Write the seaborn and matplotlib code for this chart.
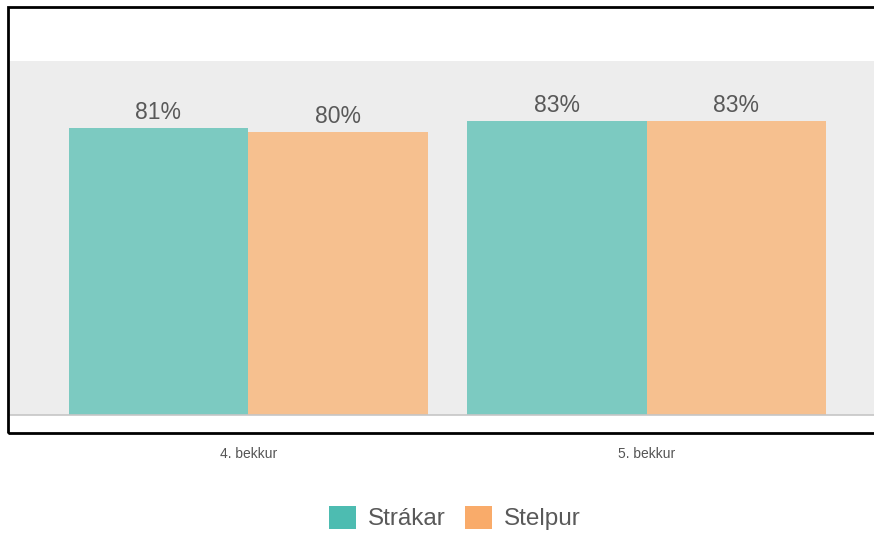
import matplotlib
matplotlib.use("Agg")
import matplotlib.pyplot as plt
import seaborn as sns
import pandas as pd
from matplotlib.patches import Rectangle, Patch

categories = ["4. bekkur", "5. bekkur"]
series_names = ["Strákar", "Stelpur"]
strakar = [81, 83]
stelpur = [80, 83]
bar_colors = ["#7ccac1", "#f6c08f"]
legend_colors = ["#4dbcb1", "#f9ab6a"]

df = pd.DataFrame({
    "cat": categories * 2,
    "series": [series_names[0]] * 2 + [series_names[1]] * 2,
    "val": strakar + stelpur,
})

sns.set_theme(style="white")
plt.rcParams["font.family"] = ["Liberation Sans", "DejaVu Sans"]

W, H = 874, 535
fig = plt.figure(figsize=(W / 100, H / 100), dpi=100)
ax = fig.add_axes([9 / W, (H - 415) / H, (W - 9) / W, 354 / H])
ax.set_facecolor("#ededed")

sns.barplot(data=df, x="cat", y="val", hue="series", palette=bar_colors,
            width=0.9, saturation=1, ax=ax, legend=False, linewidth=0)

ax.set_ylim(0, 100)
ax.set_xlim(-0.6, 1.57)
ax.set_yticks([])
ax.set_xlabel("")
ax.set_ylabel("")
for s in ax.spines.values():
    s.set_visible(False)
ax.axhline(0, color="#c6c6c6", lw=1.2, zorder=5, clip_on=False)
ax.tick_params(axis="x", length=0, pad=23, labelsize=10, labelcolor="#555555")

for cont in ax.containers:
    ax.bar_label(cont, labels=[f"{v:.0f}%" for v in cont.datavalues],
                 padding=3, fontsize=16.5, color="#595959")

frame = Rectangle((8 / W, (H - 433) / H), 1.2, (433 - 7) / H,
                  transform=fig.transFigure, fill=False, edgecolor="black",
                  lw=2.0, clip_on=False, zorder=10)
fig.patches.append(frame)

handles = [Patch(facecolor=c, edgecolor="none") for c in legend_colors]
fig.legend(handles, series_names, loc="center", bbox_to_anchor=(455 / W, (H - 518) / H),
           ncol=2, frameon=False, fontsize=17.5, labelcolor="#595959",
           handlelength=1.1, handleheight=1.1, handletextpad=0.5, columnspacing=0.8)

fig.savefig("out.png", dpi=100)
